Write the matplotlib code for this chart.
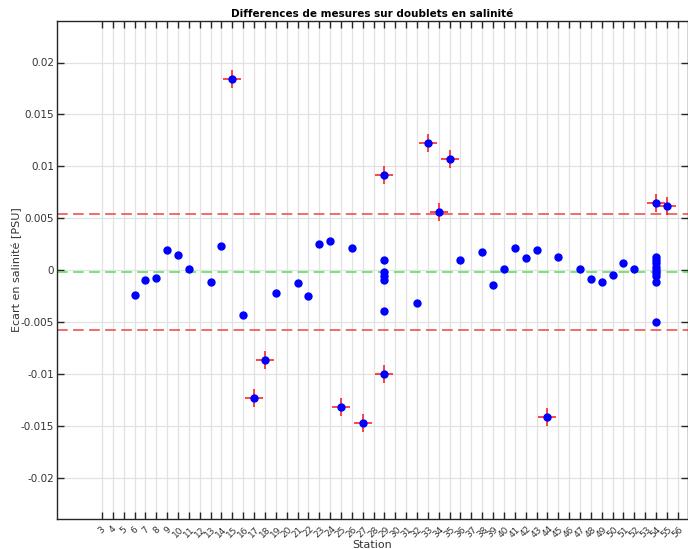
import numpy as np
import matplotlib.pyplot as plt

#### data ######################################################################

# station number of each doublet, and salinity difference between the two bottles
stations = [6, 7, 8, 9, 10, 11, 13, 14, 15, 16, 17, 18, 19, 21, 22, 23, 24, 25, 26, 27,
            29, 29, 29, 29, 29, 29, 29,
            32, 33, 34, 35, 36, 38, 39, 40, 41, 42, 43, 44, 45, 47, 48, 49, 50, 51, 52,
            54, 54, 54, 54, 54, 54, 54, 54, 54, 54, 55]
ecart = [-0.0024, -0.00096, -0.00077, 0.00192, 0.00144, 0.0001, -0.00115, 0.0023, 0.0184,
         -0.0043, -0.01234, -0.00865, -0.0022, -0.00125, -0.00247, 0.0025, 0.00282,
         -0.01324, 0.00212, -0.01471,
         0.0092, 0.00093, -0.00022, -0.00061, -0.00096, -0.00397, -0.01006,
         -0.00314, 0.01221, 0.0056, 0.01074, 0.00093, 0.00173, -0.00147, 0.00013,
         0.00212, 0.00112, 0.00192, -0.01413, 0.00125, 0.00006, -0.00087, -0.00119,
         -0.00048, 0.00067, 0.00013,
         0.0065, 0.00125, 0.00096, 0.00064, 0.00029, -0.00003, -0.00032, -0.0006,
         -0.00118, -0.005, 0.0062]

moyenne = -0.00022   # mean difference
seuil = 0.0056       # half-width of the acceptance band

tick_stations = list(range(3, 57))
yticks = [-0.02, -0.015, -0.01, -0.005, 0, 0.005, 0.01, 0.015, 0.02]
yticklabels = ['-0.02', '-0.015', '-0.01', '-0.005', '0', '0.005', '0.01', '0.015', '0.02']

#### plot ######################################################################

x = np.array(stations)
d = np.array(ecart)
hors = np.abs(d - moyenne) > seuil

fig = plt.figure(figsize=(6.88, 5.49), dpi=100)
ax = fig.add_axes([57/688, 1-519/549, 630.5/688, 498/549])

ax.axhline(moyenne, color='#55dd55', ls=(0, (7, 3.5)), lw=1.1, zorder=2)
ax.axhline(moyenne + seuil, color='#ee4444', ls=(0, (7, 3.5)), lw=1.1, zorder=2)
ax.axhline(moyenne - seuil, color='#ee4444', ls=(0, (7, 3.5)), lw=1.1, zorder=2)

ax.plot(x[hors], d[hors], ls='none', marker='+', ms=12.5, mew=1.2, color='red', alpha=0.85, zorder=3)
ax.plot(x, d, ls='none', marker='o', ms=5, color='blue', zorder=4)

ax.set_xlim(-1.14, 56.9)
ax.set_ylim(-0.024, 0.024)
ax.set_xticks(tick_stations)
ax.set_xticklabels([str(s) for s in tick_stations], rotation=45, ha='center', va='top',
                   fontsize=6.5, color='#333333')
ax.set_yticks(yticks)
ax.set_yticklabels(yticklabels, fontsize=7.5, color='#333333')
ax.tick_params(direction='in', length=5, width=1, top=True, right=True, color='#262626')
ax.tick_params(axis='y', pad=2)
ax.tick_params(axis='x', pad=4)
ax.grid(True, color='#e2e2e2', lw=0.9, zorder=0)
ax.set_axisbelow(True)
for sp in ax.spines.values():
    sp.set_color('#262626')
    sp.set_linewidth(1.0)

ax.set_title('Differences de mesures sur doublets en salinité', fontsize=7.5, fontweight='bold', pad=3)
ax.set_xlabel('Station', fontsize=8, color='#333333', va='center')
ax.set_ylabel('Ecart en salinité [PSU]', fontsize=8, color='#333333', va='center')
ax.yaxis.set_label_coords(-0.064, 0.5)
ax.xaxis.set_label_coords(0.5, -0.052)

fig.savefig('out.png', dpi=100)
plt.close()
